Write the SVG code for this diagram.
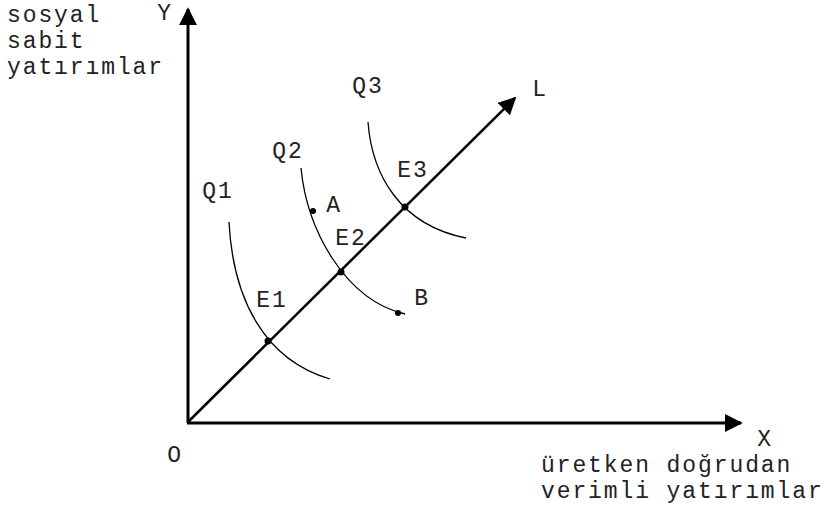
<svg xmlns="http://www.w3.org/2000/svg" width="830" height="508" viewBox="0 0 830 508">
<style>
text{font-family:"Liberation Mono","Courier New",monospace;font-size:23px;letter-spacing:1.9px;fill:#222;}
.lbl{text-anchor:middle;}
.axis{stroke:#000;stroke-width:3;fill:none;}
.ray{stroke:#000;stroke-width:2.5;fill:none;}
.curve{stroke:#000;stroke-width:1.3;fill:none;}
.dot{fill:#000;}
</style>
<defs>
<marker id="ah" viewBox="0 0 10 10" refX="9" refY="5" markerWidth="6" markerHeight="6" markerUnits="strokeWidth" orient="auto">
<path d="M0,0 L10,5 L0,10 z" fill="#000"/>
</marker>
<marker id="ah2" viewBox="0 0 10 10" refX="9" refY="5" markerWidth="7" markerHeight="7" markerUnits="strokeWidth" orient="auto">
<path d="M0,0 L10,5 L0,10 z" fill="#000"/>
</marker>
</defs>
<g id="connectors">
<line class="axis" x1="188" y1="423" x2="188" y2="9" marker-end="url(#ah)"/>
<line class="axis" x1="187" y1="423" x2="741" y2="423" marker-end="url(#ah)"/>
<line class="ray" x1="188" y1="422" x2="515" y2="98" marker-end="url(#ah2)"/>
</g>
<g id="Q1">
<path class="curve" d="M229,222 C233,300 265,360 330,379"/>
<text class="lbl" x="218" y="198">Q1</text>
</g>
<g id="Q2">
<path class="curve" d="M301,168 C307,230 345,300 405,314"/>
<text class="lbl" x="288" y="158">Q2</text>
</g>
<g id="Q3">
<path class="curve" d="M368,122 C372,175 400,225 466,238"/>
<text class="lbl" x="368" y="93">Q3</text>
</g>
<g id="E1">
<circle class="dot" cx="268" cy="341" r="3.5"/>
<text class="lbl" x="272" y="307">E1</text>
</g>
<g id="E2">
<circle class="dot" cx="341" cy="272" r="3.5"/>
<text class="lbl" x="351" y="245">E2</text>
</g>
<g id="E3">
<circle class="dot" cx="405" cy="207" r="3.5"/>
<text class="lbl" x="413" y="177">E3</text>
</g>
<g id="A">
<circle class="dot" cx="313" cy="211" r="3"/>
<text class="lbl" x="334" y="212">A</text>
</g>
<g id="B">
<circle class="dot" cx="398" cy="313" r="3"/>
<text class="lbl" x="422" y="305">B</text>
</g>
<g id="labels">
<text class="lbl" x="540" y="96">L</text>
<text class="lbl" x="765" y="446">X</text>
<text class="lbl" x="175" y="462">O</text>
<text class="lbl" x="165" y="20">Y</text>
<text x="7" y="22">sosyal</text>
<text x="7" y="48">sabit</text>
<text x="7" y="74">yatırımlar</text>
<text x="541" y="472">üretken doğrudan</text>
<text x="541" y="498">verimli yatırımlar</text>
</g>
</svg>
